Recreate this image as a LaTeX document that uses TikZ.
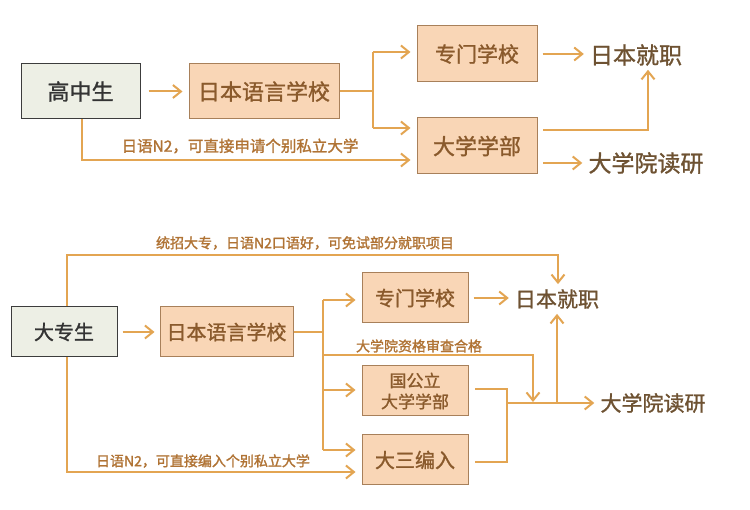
\documentclass[tikz,border=0pt]{standalone}
\usepackage{fontspec}
\setmainfont{Noto Sans CJK SC}
\newfontfamily\cjkm{Noto Sans CJK SC}[FakeBold=1.2]
\newfontfamily\cjkl{Noto Sans CJK SC}[FakeBold=1.6]
\usetikzlibrary{arrows.meta,calc}
\definecolor{lineC}{HTML}{E3A552}
\definecolor{peach}{HTML}{F9D6B6}
\definecolor{peachB}{HTML}{A8805A}
\definecolor{startF}{HTML}{EDEFE5}
\definecolor{startB}{HTML}{3C3C3C}
\definecolor{boxT}{HTML}{8A5A2C}
\definecolor{endT}{HTML}{6E5232}
\definecolor{labT}{HTML}{B07334}
\tikzset{
  conn/.style={draw=lineC, line width=2pt},
  arr/.style={conn, -{Straight Barb[length=8pt,width=13pt]}},
  startbox/.style={draw=startB, fill=startF, line width=1pt, text=black!80, inner sep=0pt},
  peachbox/.style={draw=peachB, fill=peach, line width=1pt, text=boxT, inner sep=0pt},
  endtext/.style={text=endT, inner sep=0pt},
  lab/.style={text=labT, font=\cjkl\fontsize{14}{16}\selectfont, inner sep=0pt},
  fs/.style={font=\cjkm\fontsize{#1}{#1}\selectfont},
}
\begin{document}
\begin{tikzpicture}[x=1pt,y=-1pt]
\useasboundingbox[fill=white] (0,0) rectangle (750,510);
% ---------- top ----------
\node[startbox, minimum width=119pt, minimum height=55pt, fs=22] (hs) at (80.5,91.5) {高中生};
\node[peachbox, minimum width=150pt, minimum height=55pt, fs=22] (jl1) at (264,91.5) {日本语言学校};
\node[peachbox, minimum width=120pt, minimum height=56pt, fs=21] (zm1) at (477,54) {专门学校};
\node[peachbox, minimum width=120pt, minimum height=56pt, fs=22] (dx1) at (477,146) {大学学部};
\node[endtext, fs=23] (jz1) at (636,55) {日本就职};
\node[endtext, fs=23] (dy1) at (646,163) {大学院读研};
\coordinate (s1) at (373,91.5);
\coordinate (s1a) at (373,52);
\coordinate (s1b) at (373,128);
\coordinate (c1) at (648,130);
\coordinate (c1s) at (543,130);
\coordinate (d1s) at (543,163);
\coordinate (l1) at (82,160);

\draw[arr, shorten <=8pt, shorten >=6pt] (hs) -- (jl1);
\draw[conn] (jl1.east) -- (s1);
\draw[conn] (s1a) -- (s1b);
\draw[arr, shorten >=6pt] (s1a) -- (zm1.west |- s1a);
\draw[arr, shorten >=6pt] (s1b) -- (dx1.west |- s1b);
\draw[arr, shorten <=5pt, shorten >=6pt] (zm1.east) -- (jz1.west |- zm1.east);
\draw[arr, shorten >=4pt] (c1s) -| (jz1.south -| c1);
\draw[arr, shorten >=6pt] (d1s) -- (dy1.west |- d1s);
\draw[arr, shorten >=6pt] (hs.south -| l1) |- (dx1.west |- l1);
\node[lab, font=\cjkl\fontsize{15.5}{17}\selectfont] (t1) at (240,146) {日语N2，可直接申请个别私立大学};

% ---------- bottom ----------
\node[startbox, minimum width=106pt, minimum height=50pt, fs=20] (dz) at (64,332) {大专生};
\node[peachbox, minimum width=133pt, minimum height=50pt, fs=20] (jl2) at (226.5,332) {日本语言学校};
\node[peachbox, minimum width=106pt, minimum height=50pt, fs=20] (zm2) at (415,298) {专门学校};
\node[peachbox, minimum width=106pt, minimum height=50pt, font=\cjkm\fontsize{17}{21}\selectfont, align=center] (gg) at (415,391) {国公立\\大学学部};
\node[peachbox, minimum width=106pt, minimum height=50pt, fs=20] (ds) at (415,460) {大三编入};
\node[endtext, fs=21] (jz2) at (557,299) {日本就职};
\node[endtext, fs=21] (dy2) at (653,403) {大学院读研};
\coordinate (s2) at (323,332);
\coordinate (s2a) at (323,300);
\coordinate (s2b) at (323,390);
\coordinate (s2c) at (323,450);
\coordinate (q) at (323,355);
\coordinate (qd) at (533,355);
\coordinate (m) at (507,403);
\coordinate (mg) at (507,389);
\coordinate (md) at (507,462);
\coordinate (mgs) at (475,389);
\coordinate (mds) at (475,462);
\coordinate (up) at (557,403);
\coordinate (tp) at (67,255);
\coordinate (tpr) at (558,255);
\coordinate (bt) at (67,472);

\draw[arr, shorten <=5pt, shorten >=5pt] (dz) -- (jl2);
\draw[conn] (jl2.east) -- (s2);
\draw[conn] (s2a) -- (s2c);
\draw[arr, shorten >=6pt] (s2a) -- (zm2.west |- s2a);
\draw[arr, shorten >=6pt] (s2b) -- (gg.west |- s2b);
\draw[arr, shorten >=6pt] (s2c) -- (ds.west |- s2c);
\draw[arr, shorten >=1pt] (q) -| (qd |- m);
\draw[conn] (mgs) -- (mg) -- (md) -- (mds);
\draw[arr, shorten >=6pt] (m) -- (dy2.west |- m);
\draw[arr, shorten >=5pt] (up) -- (jz2.south -| up);
\draw[arr, shorten >=5pt] (dz.north -| tp) |- (tpr) -- (jz2.north -| tpr);
\draw[arr, shorten >=6pt] (dz.south -| bt) |- (ds.west |- bt);
\draw[arr, shorten <=5pt, shorten >=6pt] (zm2.east) -- (jz2.west |- zm2.east);
\node[lab] (t2) at (305,243) {统招大专，日语N2口语好，可免试部分就职项目};
\node[lab] (t3) at (419,346) {大学院资格审查合格};
\node[lab] (t4) at (203,461) {日语N2，可直接编入个别私立大学};
\end{tikzpicture}
\end{document}
